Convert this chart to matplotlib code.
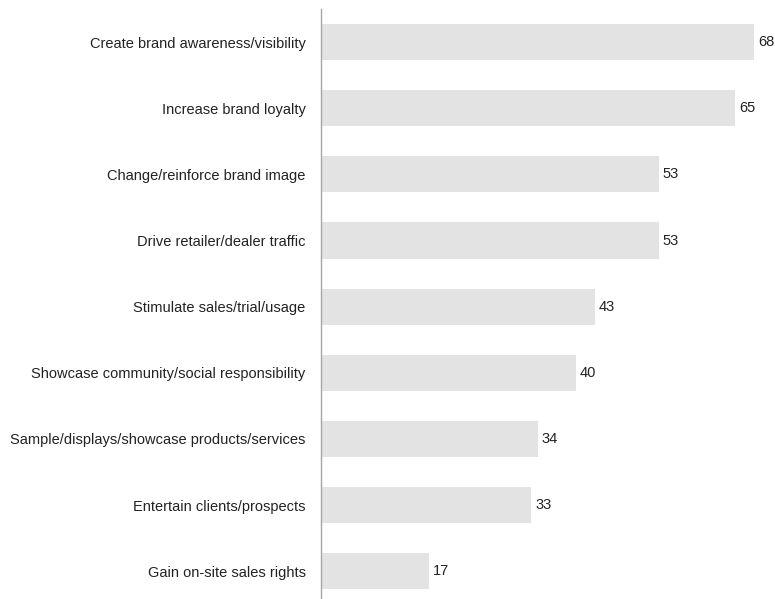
import matplotlib
matplotlib.use("Agg")
import matplotlib.pyplot as plt

categories = [
    "Create brand awareness/visibility",
    "Increase brand loyalty",
    "Change/reinforce brand image",
    "Drive retailer/dealer traffic",
    "Stimulate sales/trial/usage",
    "Showcase community/social responsibility",
    "Sample/displays/showcase products/services",
    "Entertain clients/prospects",
    "Gain on-site sales rights",
]
values = [68, 65, 53, 53, 43, 40, 34, 33, 17]

plt.rcParams["font.family"] = ["Liberation Sans", "DejaVu Sans"]

fig = plt.figure(figsize=(7.75, 5.99), dpi=100)
ax = fig.add_axes([321 / 775, 0, 446 / 775, 1 - 9 / 599])

pos = list(range(len(categories)))
ax.barh(pos, values, height=0.545, color="#e3e3e3")
for y, v in zip(pos, values):
    ax.text(v + 0.6, y, str(v), va="center", ha="left", fontsize=10.5, color="#222222")

ax.set_xlim(0, 70)
ax.set_ylim(8.42, -0.5)
ax.set_yticks(pos)
ax.set_yticklabels(categories, fontsize=10.5, color="#222222")
ax.tick_params(axis="y", length=0, pad=11)
ax.set_xticks([])
for s in ["top", "right", "bottom"]:
    ax.spines[s].set_visible(False)
ax.spines["left"].set_color("#a6a6a6")
ax.spines["left"].set_linewidth(1.0)

fig.savefig("out.png", dpi=100)
